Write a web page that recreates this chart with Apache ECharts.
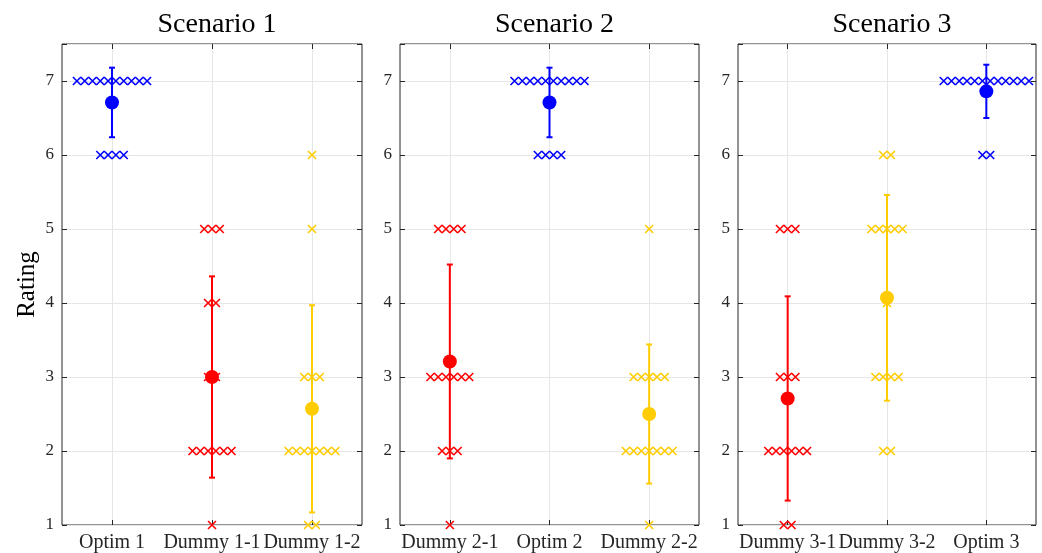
<!DOCTYPE html>
<html>
<head>
<meta charset="utf-8">
<script src="https://cdn.jsdelivr.net/npm/echarts@6/dist/echarts.min.js"></script>
<style>
  html, body { margin: 0; padding: 0; background: #fff; }
  #chart { width: 1042px; height: 553px; }
</style>
</head>
<body>
<div id="chart"></div>
<script>
const scenarios = ['Scenario 1', 'Scenario 2', 'Scenario 3'];
const categories1 = ['Optim 1', 'Dummy 1-1', 'Dummy 1-2'];
const categories2 = ['Dummy 2-1', 'Optim 2', 'Dummy 2-2'];
const categories3 = ['Dummy 3-1', 'Dummy 3-2', 'Optim 3'];
const ratingLevels = [1, 2, 3, 4, 5, 6, 7];
const yTicks = [1, 2, 3, 4, 5, 6, 7];

// how many participants gave each rating (1..7), per option
const counts1 = [[0, 0, 0, 0, 0, 4, 10], [1, 6, 2, 2, 3, 0, 0], [2, 7, 3, 0, 1, 1, 0]];
const counts2 = [[1, 3, 6, 0, 4, 0, 0], [0, 0, 0, 0, 0, 4, 10], [1, 7, 5, 0, 1, 0, 0]];
const counts3 = [[2, 6, 3, 0, 3, 0, 0], [0, 2, 4, 1, 5, 2, 0], [0, 0, 0, 0, 0, 2, 12]];

// mean rating and error bar half length
const means1 = [6.71, 3.00, 2.57];
const errors1 = [0.47, 1.36, 1.40];
const means2 = [3.21, 6.71, 2.50];
const errors2 = [1.31, 0.47, 0.94];
const means3 = [2.71, 4.07, 6.86];
const errors3 = [1.38, 1.39, 0.36];

const BLUE = '#0000ff', RED = '#ff0000', YELLOW = '#ffcc00';
const colors1 = [BLUE, RED, YELLOW];
const colors2 = [RED, BLUE, YELLOW];
const colors3 = [RED, YELLOW, BLUE];

const panels = [
    { title: scenarios[0], cats: categories1, counts: counts1, means: means1, errors: errors1, colors: colors1, left: 62, width: 300 },
    { title: scenarios[1], cats: categories2, counts: counts2, means: means2, errors: errors2, colors: colors2, left: 400, width: 299 },
    { title: scenarios[2], cats: categories3, counts: counts3, means: means3, errors: errors3, colors: colors3, left: 738, width: 298 }
];

const FONT = 'Liberation Serif';
const AXIS_COLOR = '#262626';
const GRID_COLOR = '#e6e6e6';
const SPREAD = 0.078; // horizontal step between repeated markers

const crossPath = 'path://M0,0L10,10M10,0L0,10';
const onCenter = (idx) => idx % 2 === 1;

const option = {
    animation: false,
    title: [],
    grid: [],
    xAxis: [],
    yAxis: [],
    series: []
};

panels.forEach((p, gi) => {
    option.title.push({
        text: p.title,
        left: p.left + p.width / 2,
        top: 6,
        textAlign: 'center',
        textStyle: { fontFamily: FONT, fontSize: 28, fontWeight: 'normal', color: '#000' }
    });
    option.grid.push({
        left: p.left, top: 44, width: p.width, height: 482,
        show: true, borderColor: AXIS_COLOR, borderWidth: 1, backgroundColor: 'transparent'
    });

    const slots = ['', p.cats[0], '', p.cats[1], '', p.cats[2], ''];
    // bottom axis with labels
    option.xAxis.push({
        type: 'category', gridIndex: gi, data: slots, boundaryGap: false, position: 'bottom',
        axisLine: { show: false },
        axisTick: { show: true, inside: true, length: 5, interval: onCenter, lineStyle: { color: AXIS_COLOR } },
        axisLabel: { interval: 0, margin: 8, fontFamily: FONT, fontSize: 20, color: AXIS_COLOR },
        splitLine: { show: true, interval: onCenter, lineStyle: { color: GRID_COLOR, width: 1 } }
    });
    // top axis, ticks only
    option.xAxis.push({
        type: 'category', gridIndex: gi, data: slots, boundaryGap: false, position: 'top',
        axisLine: { show: false },
        axisTick: { show: true, inside: true, length: 5, interval: onCenter, lineStyle: { color: AXIS_COLOR } },
        axisLabel: { show: false },
        splitLine: { show: false }
    });
    // value axis used to place the marks
    option.xAxis.push({
        type: 'value', gridIndex: gi, min: 0.5, max: 3.5, show: false
    });

    option.yAxis.push({
        type: 'value', gridIndex: gi, min: 1, max: 7.5, interval: 1, position: 'left',
        name: gi === 0 ? 'Rating' : '',
        nameLocation: 'middle', nameGap: 22,
        nameTextStyle: { fontFamily: FONT, fontSize: 25, color: '#000' },
        axisLine: { show: false },
        axisTick: { show: true, inside: true, length: 5, lineStyle: { color: AXIS_COLOR } },
        axisLabel: {
            margin: 8, fontFamily: FONT, fontSize: 17, color: AXIS_COLOR,
            formatter: v => (yTicks.includes(v) ? String(v) : '')
        },
        splitLine: { show: true, lineStyle: { color: GRID_COLOR, width: 1 } }
    });
    option.yAxis.push({
        type: 'value', gridIndex: gi, min: 1, max: 7.5, interval: 1, position: 'right',
        axisLine: { show: false },
        axisTick: { show: true, inside: true, length: 5, lineStyle: { color: AXIS_COLOR } },
        axisLabel: { show: false },
        splitLine: { show: false }
    });

    const xIdx = gi * 3 + 2;
    const yIdx = gi * 2;

    p.cats.forEach((cat, ci) => {
        const color = p.colors[ci];
        const pts = [];
        p.counts[ci].forEach((n, li) => {
            for (let k = 0; k < n; k++) {
                pts.push([ci + 1 + (k - (n - 1) / 2) * SPREAD, ratingLevels[li]]);
            }
        });
        option.series.push({
            name: cat, type: 'scatter', xAxisIndex: xIdx, yAxisIndex: yIdx,
            symbol: crossPath, symbolSize: 8, data: pts, z: 2,
            itemStyle: { color: 'transparent', borderColor: color, borderWidth: 1.6, opacity: 1 }
        });
        option.series.push({
            type: 'custom', xAxisIndex: xIdx, yAxisIndex: yIdx, z: 3,
            data: [[ci + 1, p.means[ci], p.errors[ci]]],
            encode: { x: 0, y: 1 },
            renderItem: (params, api) => {
                const x = api.value(0), m = api.value(1), e = api.value(2);
                const top = api.coord([x, m + e]);
                const bot = api.coord([x, m - e]);
                const style = { stroke: color, lineWidth: 2, fill: null };
                return {
                    type: 'group',
                    children: [
                        { type: 'line', shape: { x1: top[0], y1: top[1], x2: bot[0], y2: bot[1] }, style },
                        { type: 'line', shape: { x1: top[0] - 3, y1: top[1], x2: top[0] + 3, y2: top[1] }, style },
                        { type: 'line', shape: { x1: bot[0] - 3, y1: bot[1], x2: bot[0] + 3, y2: bot[1] }, style }
                    ]
                };
            }
        });
        option.series.push({
            type: 'scatter', xAxisIndex: xIdx, yAxisIndex: yIdx, z: 4,
            symbol: 'circle', symbolSize: 14,
            data: [[ci + 1, p.means[ci]]],
            itemStyle: { color: color, opacity: 1 }
        });
    });
});

const chart = echarts.init(document.getElementById('chart'));
chart.setOption(option);
</script>
</body>
</html>
